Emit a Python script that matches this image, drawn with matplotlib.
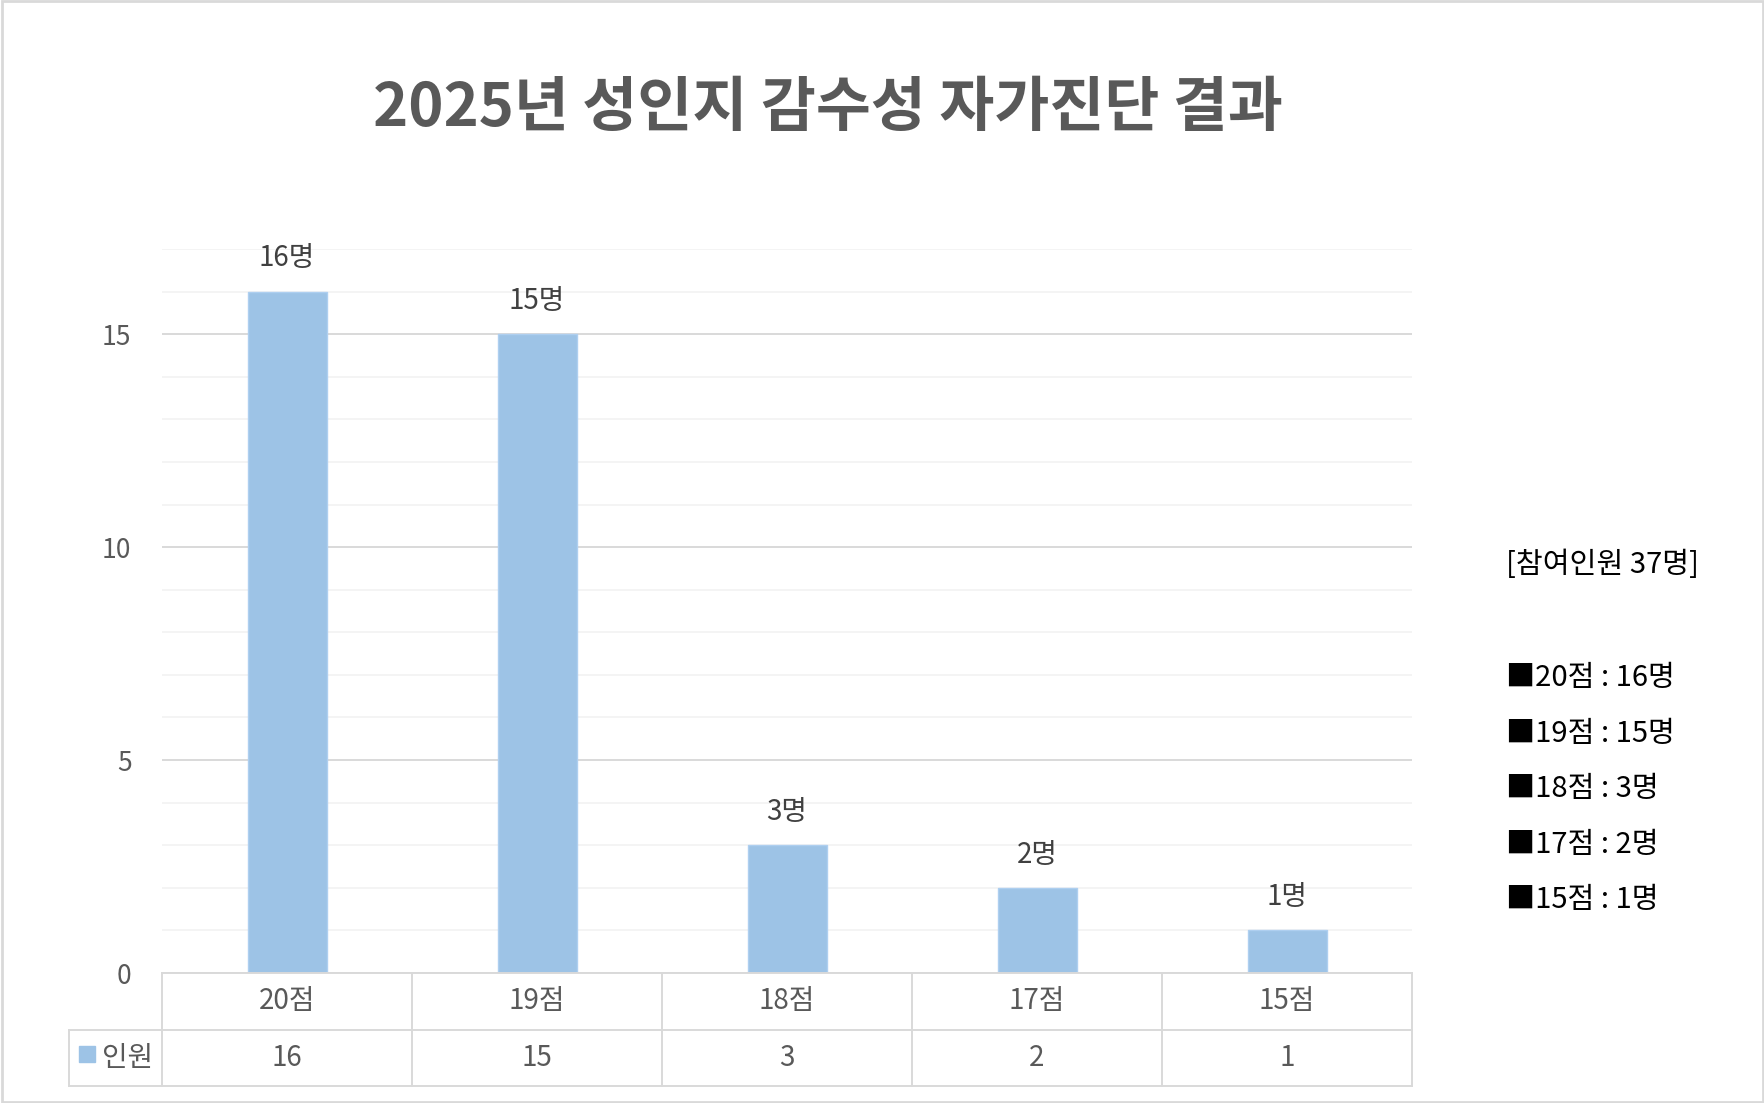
import matplotlib
matplotlib.use('Agg')
import matplotlib.pyplot as plt
from matplotlib.patches import Rectangle
from matplotlib.ticker import MultipleLocator

plt.rcParams['font.family'] = ['Noto Sans CJK KR', 'DejaVu Sans']

# data
categories = ['20점', '19점', '18점', '17점', '15점']
counts = [16, 15, 3, 2, 1]
series_name = '인원'
title = '2025년 성인지 감수성 자가진단 결과'
total_label = '[참여인원 37명]'
side_lines = ['■20점 : 16명', '■19점 : 15명', '■18점 : 3명', '■17점 : 2명', '■15점 : 1명']

bar_color = '#9dc3e6'
text_gray = '#595959'
line_gray = '#d9d9d9'

fig = plt.figure(figsize=(17.65, 11.03), dpi=100)
ax = fig.add_axes([0.0918, 0.1178, 0.7082, 0.6565])

x = range(len(categories))
ax.bar(x, counts, width=0.316, color=bar_color, edgecolor='#aecff0', linewidth=1, zorder=3)
ax.set_xlim(-0.5, len(categories) - 0.5)
ax.set_ylim(0, 17)

ax.yaxis.set_major_locator(MultipleLocator(5))
ax.yaxis.set_minor_locator(MultipleLocator(1))
ax.grid(which='major', axis='y', color=line_gray, linewidth=1.4, zorder=1)
ax.grid(which='minor', axis='y', color='#f2f2f2', linewidth=1.2, zorder=0)
ax.tick_params(axis='y', which='both', length=0, pad=22, labelsize=19, labelcolor=text_gray)
ax.set_xticks([])
for s in ax.spines.values():
    s.set_visible(False)

for i, v in enumerate(counts):
    ax.annotate(f'{v}명', (i, v), xytext=(0, 24), textcoords='offset points',
                ha='center', va='center', fontsize=20, color='#404040')

# data table under the plot (drawn by hand)
lab_w = 0.0744
tab_h = 0.156
n = len(categories)
tr = ax.transAxes
kw = dict(transform=tr, color=line_gray, linewidth=1.4, clip_on=False, zorder=4)
ax.plot([0, 1], [0, 0], **kw)
ax.plot([-lab_w, 1], [-tab_h / 2, -tab_h / 2], **kw)
ax.plot([-lab_w, 1], [-tab_h, -tab_h], **kw)
ax.plot([-lab_w, -lab_w], [-tab_h / 2, -tab_h], **kw)
for j in range(n + 1):
    ax.plot([j / n, j / n], [0, -tab_h], **kw)

xt = ax.get_xaxis_transform()
for i, c in enumerate(categories):
    ax.text(i, -tab_h / 4, c, transform=xt, ha='center', va='center',
            fontsize=20, color=text_gray)
    ax.text(i, -3 * tab_h / 4, str(counts[i]), transform=xt, ha='center', va='center',
            fontsize=20, color=text_gray)

# legend key in the label cell
ax.add_patch(Rectangle((-0.0666, -0.1225), 0.0128, 0.022, transform=tr,
                       color=bar_color, clip_on=False))
ax.text(-0.0072, -3 * tab_h / 4, series_name, transform=tr, ha='right', va='center',
        fontsize=20, color=text_gray)

fig.text(0.469, 0.901, title, ha='center', va='center', fontsize=43,
         fontweight='bold', color=text_gray)

fig.text(0.853, 0.488, total_label, ha='left', va='center', fontsize=21, color='black')
for k, s in enumerate(side_lines):
    fig.text(0.853, 0.385 - k * 0.0503, s, ha='left', va='center', fontsize=21, color='black')

fig.add_artist(Rectangle((0.001, 0.001), 0.998, 0.998, transform=fig.transFigure,
                         fill=False, edgecolor=line_gray, linewidth=2))

fig.savefig('out.png', dpi=100)
